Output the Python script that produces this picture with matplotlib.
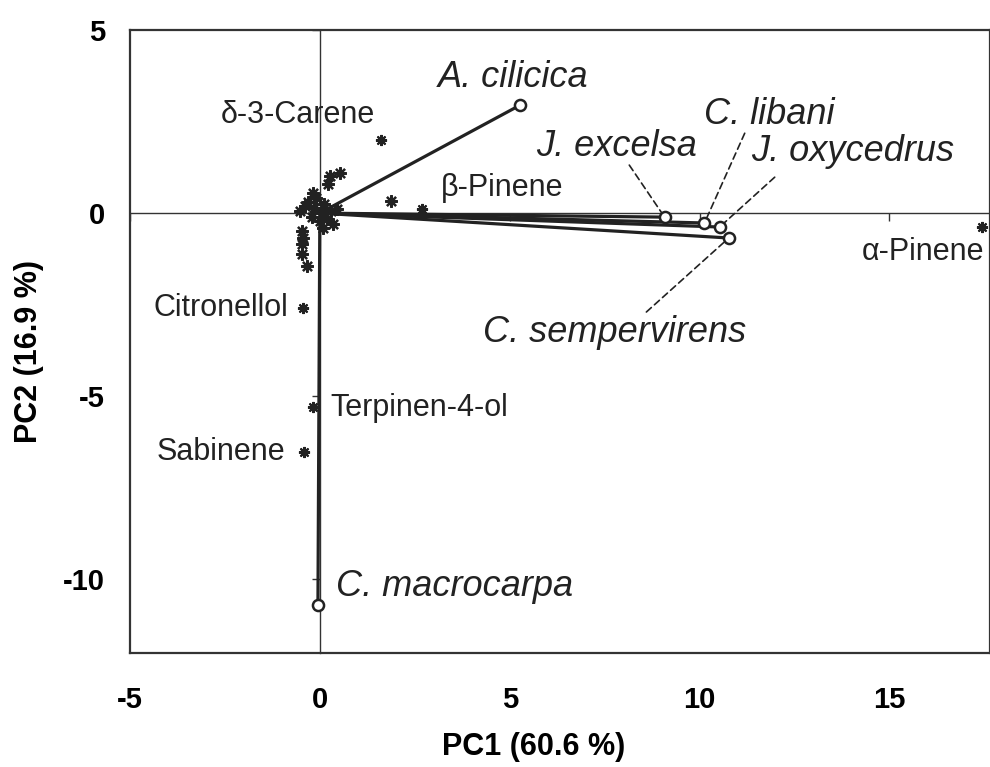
import matplotlib
matplotlib.use("Agg")
import matplotlib.pyplot as plt
import numpy as np

# Species scores (circles)
species = ["A. cilicica", "J. excelsa", "C. libani", "J. oxycedrus", "C. sempervirens", "C. macrocarpa"]
sp_pc1 = [5.28, 9.08, 10.13, 10.53, 10.77, -0.05]
sp_pc2 = [2.95, -0.11, -0.27, -0.38, -0.68, -10.7]

# Named compound loadings (asterisks)
compounds = ["δ-3-Carene", "β-Pinene", "α-Pinene", "Citronellol", "Terpinen-4-ol", "Sabinene"]
cp_pc1 = [1.6, 2.7, 17.44, -0.45, -0.18, -0.42]
cp_pc2 = [1.99, 0.1, -0.38, -2.59, -5.3, -6.52]

# Unlabelled compound loadings
other_pc1 = [1.87, 0.26, 0.53, 0.21, -0.18, -0.39, -0.53, 0.45, 0.0, 0.08, -0.47, -0.45,
             -0.47, -0.47, -0.34, -0.3, -0.1, 0.1, 0.3, -0.2, 0.2, 0.05, -0.15, 0.35]
other_pc2 = [0.33, 1.0, 1.1, 0.8, 0.55, 0.2, 0.05, 0.1, -0.22, -0.4, -0.5, -0.68,
             -0.85, -1.13, -1.45, 0.3, 0.4, 0.25, 0.05, -0.1, -0.15, 0.0, 0.15, -0.3]

xticks = [-5, 0, 5, 10, 15]
yticks = [-10, -5, 0, 5]

# Label placement (layout only)
sp_text = [(3.11, 3.71), (5.70, 1.83), (10.13, 2.70),
           (11.37, 1.68), (4.30, -3.27), (0.42, -10.2)]
sp_leader = [None, (8.15, 1.31), (11.19, 2.18), (11.98, 0.98), (8.60, -2.70), None]
cp_text = [(-0.57, 2.67, "center"), (3.19, 0.68, "left"), (17.49, -1.06, "right"),
           (-0.84, -2.59, "right"), (0.29, -5.32, "left"), (-0.90, -6.52, "right")]

plt.rcParams["font.family"] = ["Liberation Sans", "DejaVu Sans"]
plt.rcParams["axes.unicode_minus"] = False
narrow = ["Liberation Sans Narrow", "Liberation Sans"]

fig = plt.figure(figsize=(9.9, 7.67), dpi=100)
pos = [0.1313, 0.149, 0.8687, 0.812]
xlim = (-5, 17.65)
ylim = (-12, 5)

# Outer frame with tick labels
axf = fig.add_axes(pos)
axf.set_xlim(*xlim)
axf.set_ylim(*ylim)
axf.set_xticks(xticks)
axf.set_yticks(yticks)
axf.tick_params(axis="x", length=0, pad=24)
axf.tick_params(axis="y", length=0, pad=18)
for lab in axf.get_xticklabels() + axf.get_yticklabels():
    lab.set_fontweight("bold")
    lab.set_fontsize(21)
    lab.set_family(narrow)
for s in axf.spines.values():
    s.set_linewidth(1.6)
    s.set_color("#333333")
axf.set_xlabel("PC1 (60.6 %)", fontsize=22, fontweight="bold", family=narrow)
axf.set_ylabel("PC2 (16.9 %)", fontsize=22, fontweight="bold", family=narrow)
axf.xaxis.set_label_coords(0.469, -0.128)
axf.yaxis.set_label_coords(-0.1, 0.483)

# Inner axes with zero-crossing axes
ax = fig.add_axes(pos, sharex=axf, sharey=axf)
ax.patch.set_alpha(0)
ax.spines["left"].set_position(("data", 0))
ax.spines["bottom"].set_position(("data", 0))
ax.spines["right"].set_visible(False)
ax.spines["top"].set_visible(False)
for k in ("left", "bottom"):
    ax.spines[k].set_linewidth(1.0)
    ax.spines[k].set_color("#333333")
ax.tick_params(direction="out", length=6, width=1.0, color="#333333",
               labelleft=False, labelbottom=False)

# Vectors from origin to species
for x, y in zip(sp_pc1, sp_pc2):
    ax.plot([0, x], [0, y], color="#222222", lw=2.3, solid_capstyle="butt", zorder=3)
ax.plot(sp_pc1, sp_pc2, "o", ms=8, mfc="white", mec="#222222", mew=1.8, zorder=5)

# Compound loadings
ax.plot(other_pc1, other_pc2, ls="none", marker=(8, 2, 0), ms=9, mec="#222222", mew=1.6, zorder=4)
ax.plot(cp_pc1, cp_pc2, ls="none", marker=(8, 2, 0), ms=8, mec="#222222", mew=1.5, zorder=4)

for name, x, y, (tx, ty), ld in zip(species, sp_pc1, sp_pc2, sp_text, sp_leader):
    ax.text(tx, ty, name, fontsize=26, style="italic", ha="left", va="center", color="#222222")
    if ld is not None:
        ax.annotate("", xy=(x, y), xytext=ld,
                    arrowprops=dict(arrowstyle="-", ls=(0, (4, 2.5)), lw=1.2, color="#222222",
                                    shrinkA=0, shrinkB=4))

for name, (tx, ty, ha) in zip(compounds, cp_text):
    ax.text(tx, ty, name, fontsize=22, ha=ha, va="center", color="#222222")

fig.savefig("out.png", dpi=100)
